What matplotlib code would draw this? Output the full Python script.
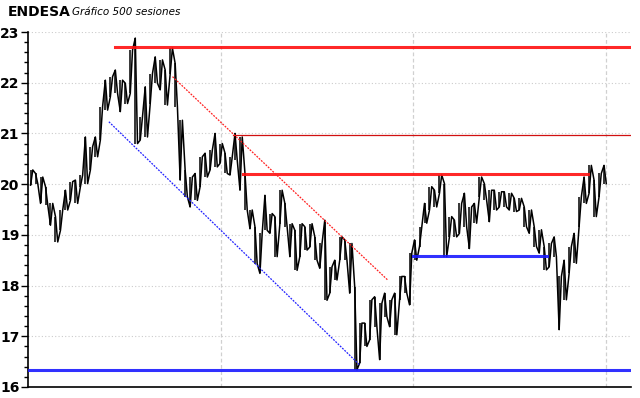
import numpy as np
import matplotlib
matplotlib.use("Agg")
import matplotlib.pyplot as plt
from matplotlib.ticker import MultipleLocator

# High / low of each block of ~4.3 sessions (500 sessions)
highs = [20.28, 20.21, 20.14, 19.95, 19.62, 19.36, 19.49, 19.88, 20.05, 20.08,
         20.18, 20.93, 20.74, 20.93, 21.53, 22.05, 22.12, 22.25, 22.05, 21.99,
         22.64, 22.88, 21.33, 21.92, 22.18, 22.51, 22.45, 22.25, 22.68, 22.38,
         21.26, 20.28, 20.14, 20.21, 20.54, 20.61, 20.67, 21.00, 20.80, 20.61,
         20.54, 21.00, 20.93, 20.21, 19.49, 19.16, 19.03, 19.78, 19.42, 19.36,
         19.88, 19.62, 19.22, 19.09, 19.22, 19.16, 19.22, 18.96, 18.83, 19.29,
         18.37, 18.50, 18.96, 18.90, 18.83, 17.98, 17.26, 17.26, 17.72, 17.78,
         17.65, 17.85, 17.72, 17.85, 18.18, 18.18, 18.64, 18.90, 19.16, 19.62,
         19.95, 19.88, 20.18, 20.01, 19.36, 19.29, 19.62, 19.82, 19.55, 19.62,
         20.14, 20.01, 19.88, 19.88, 19.85, 19.85, 19.82, 19.72, 19.72, 19.55,
         19.49, 19.16, 19.10, 18.77, 18.83, 18.96, 18.18, 18.50, 18.77, 19.03,
         19.75, 20.14, 20.37, 20.08, 20.21, 20.37]
lows = [19.98, 20.01, 19.62, 19.59, 19.19, 18.86, 19.09, 19.49, 19.68, 19.62,
        19.95, 20.01, 20.28, 20.54, 20.87, 21.46, 21.72, 21.79, 21.43, 21.59,
        21.79, 20.80, 20.87, 20.93, 21.59, 21.99, 21.86, 21.56, 22.18, 21.53,
        20.08, 19.75, 19.55, 19.68, 19.95, 20.14, 20.28, 20.34, 20.41, 20.21,
        20.18, 20.47, 19.88, 19.49, 19.12, 18.43, 18.24, 19.09, 19.03, 18.57,
        19.22, 19.16, 18.57, 18.30, 18.57, 18.70, 18.76, 18.50, 18.34, 17.71,
        17.85, 18.11, 18.50, 18.50, 17.85, 16.34, 16.47, 16.80, 16.93, 17.19,
        16.54, 17.39, 17.19, 17.03, 17.72, 17.85, 17.62, 18.50, 18.77, 19.23,
        19.49, 19.55, 19.82, 18.57, 18.96, 18.96, 19.03, 19.16, 18.73, 19.23,
        19.75, 19.69, 19.26, 19.49, 19.55, 19.55, 19.49, 19.46, 19.49, 19.16,
        19.03, 18.77, 18.64, 18.31, 18.37, 18.57, 17.13, 17.72, 18.24, 18.44,
        19.16, 19.62, 19.82, 19.36, 19.75, 20.01]

# Horizontal support / resistance levels: (price, from session, to session)
red_levels = [(22.70, 74, 520), (20.20, 185, 483)]
red_thin_levels = [(20.97, 176, 520)]
blue_levels = [(16.33, -1, 520), (18.58, 332, 448)]
# Trend lines: (session, price) end points
red_trend = [(124, 22.12), (310, 18.11)]
blue_trend = [(69, 21.23), (286, 16.43)]
year_marks = [166, 332, 499]

n = len(highs)
block = 500 / n
x = np.arange(n) * block + 1.3

fig = plt.figure(figsize=(6.4, 3.98), dpi=100)
ax = fig.add_axes([28 / 640, 11 / 398, 603 / 640, 355 / 398])

# grid
for v in range(16, 24):
    ax.axhline(v, color="#cccccc", lw=0.8, ls=(0, (1, 2)), zorder=0)
for v in year_marks:
    ax.axvline(v, color="#d0d0d0", lw=0.9, ls=(0, (3, 2)), zorder=0)

# price bars as a zigzag through each block's low and high
px, py = [], []
for i in range(n):
    pair = (lows[i], highs[i]) if i % 2 == 0 else (highs[i], lows[i])
    px += [x[i], x[i] + block * 0.45]
    py += list(pair)
ax.plot(px, py, color="black", lw=1.1, zorder=3)
ax.vlines(x, lows, highs, color="black", lw=1.1, zorder=3)

# levels
for p, a, b in red_levels:
    ax.plot([a, b], [p, p], color="#ff1010", lw=2.2, alpha=0.9, zorder=4)
for p, a, b in red_thin_levels:
    ax.plot([a, b], [p, p], color="#d01010", lw=0.9, zorder=4)
for p, a, b in blue_levels:
    ax.plot([a, b], [p, p], color="#1a1aff", lw=2.2, alpha=0.9, zorder=4)

(x0, y0), (x1, y1) = red_trend
ax.plot([x0, x1], [y0, y1], color="#ff2020", lw=0.9, ls=(0, (1.5, 1)), zorder=4)
(x0, y0), (x1, y1) = blue_trend
ax.plot([x0, x1], [y0, y1], color="#2020ff", lw=0.9, ls=(0, (1.5, 1)), zorder=4)

ax.set_xlim(-0.9, 520.3)
ax.set_ylim(16, 23)
ax.yaxis.set_major_locator(MultipleLocator(1))
ax.yaxis.set_minor_locator(MultipleLocator(0.2))
ax.tick_params(axis="y", which="major", length=5, width=1, labelsize=10, pad=1)
ax.tick_params(axis="y", which="minor", length=3, width=1)
for lab in ax.get_yticklabels():
    lab.set_fontweight("bold")
ax.set_xticks([])
for s in ["top", "right"]:
    ax.spines[s].set_visible(False)
ax.spines["left"].set_linewidth(1.2)
ax.spines["bottom"].set_linewidth(1.2)

fig.text(8 / 640, 1 - 12 / 398, "ENDESA", fontsize=10, fontweight="bold", va="center")
fig.text(72 / 640, 1 - 12 / 398, "Gráfico 500 sesiones", fontsize=7.5, style="italic", va="center")

fig.savefig("out.png", dpi=100)
